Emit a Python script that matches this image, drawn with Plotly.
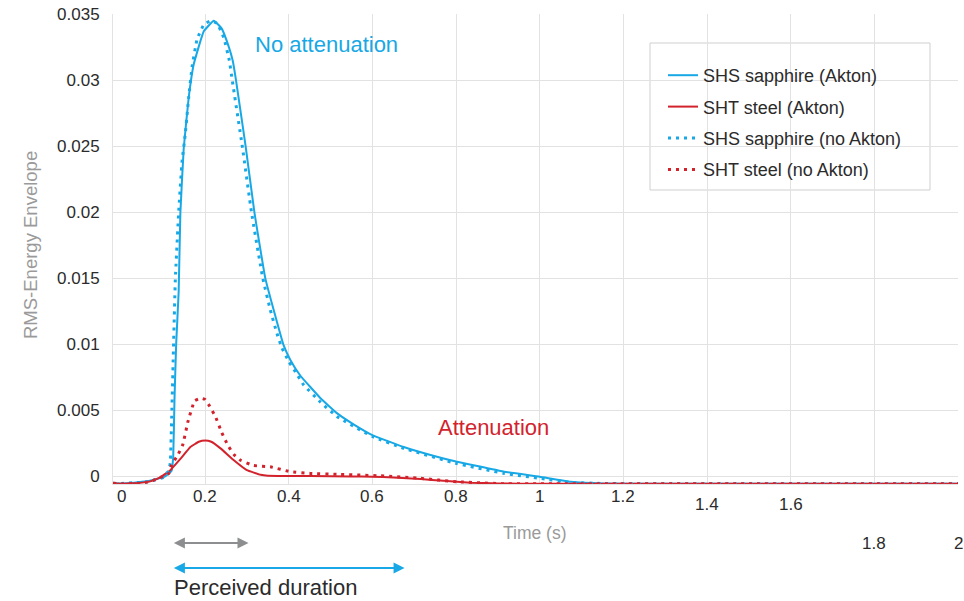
import plotly.graph_objects as go

# ---------------- data ----------------
t_shs_akton = [-0.02, 0.0, 0.03, 0.06, 0.08, 0.10, 0.11, 0.12, 0.124, 0.127, 0.131, 0.137, 0.141,
               0.149, 0.161, 0.173, 0.197, 0.221, 0.24, 0.257, 0.266, 0.274, 0.297, 0.318,
               0.344, 0.364, 0.388, 0.404, 0.428, 0.476, 0.516, 0.556, 0.6, 0.675,
               0.75, 0.8, 0.86, 0.915, 1.0, 1.074, 1.15, 1.25, 1.5, 2.0]
v_shs_akton = [-0.00055, -0.00056, -0.0005, -0.0004, -0.00025, -0.0001, 0.0001, 0.0004, 0.0015,
               0.0058, 0.010, 0.014, 0.0199, 0.0248, 0.0287, 0.0312, 0.0337, 0.0345, 0.0339,
               0.0325, 0.0315, 0.030, 0.025, 0.020, 0.015, 0.0126, 0.0099,
               0.0088, 0.0076, 0.0059, 0.00475, 0.0039, 0.0031, 0.0022, 0.0015, 0.0011, 0.0007,
               0.00033, -0.00005, -0.00043, -0.00056, -0.00058, -0.00058, -0.00058]

t_sht_akton = [-0.02, 0.0, 0.03, 0.069, 0.093, 0.117, 0.141, 0.165, 0.185, 0.2, 0.215, 0.237,
               0.269, 0.30, 0.333, 0.35, 0.45, 0.55, 0.6, 0.65, 0.715, 0.77, 0.835, 0.9, 1.0,
               1.5, 2.0]
v_sht_akton = [-0.00055, -0.00058, -0.00055, -0.0004, -0.0001, 0.00045, 0.0013, 0.0022, 0.0026,
               0.0027, 0.0026, 0.0021, 0.0012, 0.00045, 0.0001, 0.00003, 0.0, -0.00003, -0.00005,
               -0.0001, -0.00023, -0.00035, -0.0005, -0.00056, -0.00058, -0.00058, -0.00058]

t_shs_none = [-0.02, 0.0, 0.03, 0.06, 0.08, 0.10, 0.113, 0.117, 0.12, 0.124, 0.129, 0.137,
              0.145, 0.153, 0.161, 0.169, 0.181, 0.197, 0.213, 0.229, 0.245, 0.258, 0.265,
              0.289, 0.311, 0.338, 0.356, 0.372, 0.384, 0.40, 0.42,
              0.436, 0.476, 0.516, 0.6, 0.675, 0.8, 0.915, 1.0, 1.074, 1.15, 1.25, 1.5, 2.0]
v_shs_none = [-0.00055, -0.00056, -0.0005, -0.00045, -0.0003, -0.0001, 0.0004, 0.001, 0.004,
              0.009, 0.0149, 0.020, 0.0238, 0.026, 0.0287, 0.031, 0.0331, 0.0342, 0.0345,
              0.0343, 0.0332, 0.0315, 0.030, 0.025, 0.020, 0.015, 0.0126, 0.0108, 0.0097,
              0.0087, 0.0077, 0.0069, 0.0056, 0.0045, 0.0030,
              0.0021, 0.00096, 0.0002, -0.00017, -0.00048, -0.00056, -0.00058, -0.00058,
              -0.00058]

t_sht_none = [-0.02, 0.0, 0.045, 0.069, 0.089, 0.113, 0.12, 0.135, 0.147, 0.159, 0.175, 0.19,
              0.2, 0.211, 0.225, 0.24, 0.255, 0.27, 0.285, 0.316, 0.356, 0.404, 0.452, 0.516,
              0.62, 0.715, 0.803, 0.915, 1.0, 1.5, 2.0]
v_sht_none = [-0.00055, -0.00058, -0.00055, -0.0004, -0.00017, 0.0002, 0.00084, 0.0016, 0.0024,
              0.0041, 0.0057, 0.0059, 0.0058, 0.0053, 0.0045, 0.0033, 0.0023, 0.0016, 0.0012,
              0.0008, 0.0007, 0.00033, 0.0002, 0.00013, 0.00002, -0.00017, -0.00043, -0.00058,
              -0.00058, -0.00058, -0.00058]

series_names = ["SHS sapphire (Akton)", "SHT steel (Akton)",
                "SHS sapphire (no Akton)", "SHT steel (no Akton)"]

x_tick_values = [0, 0.2, 0.4, 0.6, 0.8, 1.0, 1.2, 1.4, 1.6, 1.8, 2.0]
x_tick_labels = ["0", "0.2", "0.4", "0.6", "0.8", "1", "1.2", "1.4", "1.6", "1.8", "2"]
y_tick_values = [0, 0.005, 0.01, 0.015, 0.02, 0.025, 0.03, 0.035]
y_tick_labels = ["0", "0.005", "0.01", "0.015", "0.02", "0.025", "0.03", "0.035"]

short_duration = [0.122, 0.304]   # grey arrow (s)
long_duration = [0.122, 0.677]    # blue arrow (s)

# ---------------- style ----------------
BLUE = "#17a8e5"
RED = "#d2232d"
GREY_TXT = "#9a9a9a"
DARK = "#2b2b2b"
GRID = "#e2e2e2"
FONT = "Liberation Sans, Arial, sans-serif"

OFF = 0                      # body margin removed by post_script
W, H = 964, 601
L, R, T, B = 113, 6, 14, 117
PW, PH = W - L - R, H - T - B


def px(sx):
    """screen column -> paper x"""
    return (sx - OFF - L) / PW


def py(sy):
    """screen row -> paper y"""
    return (H - B - (sy - OFF)) / PH


fig = go.Figure()
traces = [
    (t_shs_akton, v_shs_akton, BLUE, "solid"),
    (t_sht_akton, v_sht_akton, RED, "solid"),
    (t_shs_none, v_shs_none, BLUE, "3px,5px"),
    (t_sht_none, v_sht_none, RED, "3px,5px"),
]
for i, (tx, vy, col, dash) in enumerate(traces):
    fig.add_trace(go.Scatter(
        x=tx, y=vy, mode="lines", name=series_names[i], legendgroup=f"g{i}",
        line=dict(color=col, width=2 if dash == "solid" else 3, dash=dash,
                  shape="spline", smoothing=0.3),
    ))

annotations = []
# x tick labels (staggered as in the reference)
shifts = {1.4: -8, 1.6: -8, 1.8: -47, 2.0: -47}
for v, lab in zip(x_tick_values, x_tick_labels):
    annotations.append(dict(
        x=v, y=0, xref="x", yref="paper", text=lab, showarrow=False,
        yanchor="top", xanchor="center", yshift=-1 + shifts.get(v, 0),
        font=dict(size=17, color=DARK, family=FONT)))

annotations += [
    dict(x=px(535), y=py(533), xref="paper", yref="paper", text="Time (s)",
         showarrow=False, font=dict(size=17.5, color=GREY_TXT, family=FONT),
         xanchor="center", yanchor="middle"),
    dict(x=px(30), y=py(245), xref="paper", yref="paper", text="RMS-Energy Envelope",
         showarrow=False, textangle=-90, xanchor="center", yanchor="middle",
         font=dict(size=18.5, color=GREY_TXT, family=FONT)),
    dict(x=0.49, y=0.0327, xref="x", yref="y", text="No attenuation", showarrow=False,
         font=dict(size=22, color=BLUE, family=FONT)),
    dict(x=0.89, y=0.0037, xref="x", yref="y", text="Attenuation", showarrow=False,
         font=dict(size=22, color=RED, family=FONT)),
    dict(x=0.345, y=py(601), xref="x", yref="paper", text="Perceived duration", showarrow=False,
         font=dict(size=22, color=DARK, family=FONT), yanchor="bottom", borderpad=0),
    dict(x=short_duration[1], y=py(543), ax=short_duration[0], ay=0,
         xref="x", yref="paper", axref="x", ayref="pixel", text="", showarrow=True,
         arrowhead=2, startarrowhead=2, arrowside="end+start", arrowsize=1.1,
         startarrowsize=1.1, arrowwidth=2, arrowcolor="#8c8e90"),
    dict(x=long_duration[1], y=py(568), ax=long_duration[0], ay=0,
         xref="x", yref="paper", axref="x", ayref="pixel", text="", showarrow=True,
         arrowhead=2, startarrowhead=2, arrowside="end+start", arrowsize=1.1,
         startarrowsize=1.1, arrowwidth=2, arrowcolor=BLUE),
]

fig.update_layout(
    width=W, height=H,
    margin=dict(l=L, r=R, t=T, b=B, autoexpand=False),
    paper_bgcolor="white", plot_bgcolor="white",
    font=dict(family=FONT, size=17, color=DARK),
    showlegend=True,
    legend=dict(x=px(663), y=py(57), xanchor="left", yanchor="top",
                bgcolor="rgba(0,0,0,0)", borderwidth=0,
                font=dict(size=18, color=DARK, family=FONT),
                tracegroupgap=5, traceorder="grouped"),
    annotations=annotations,
    shapes=[dict(type="rect", xref="paper", yref="paper",
                 x0=px(650), x1=px(930), y0=py(190), y1=py(43),
                 fillcolor="white", line=dict(color="#cfcfcf", width=1), layer="between")],
)
fig.update_xaxes(range=[-0.02, 2.0], tickvals=x_tick_values[1:], showticklabels=False,
                 showgrid=True, gridcolor=GRID, gridwidth=1, zeroline=False, automargin=False,
                 showline=True, linecolor=GRID, linewidth=1, ticks="")
fig.update_yaxes(range=[-0.0006, 0.03501], tickvals=y_tick_values, ticktext=y_tick_labels,
                 showgrid=True, gridcolor=GRID, gridwidth=1, zeroline=False, automargin=False,
                 showline=True, linecolor=GRID, linewidth=1,
                 ticks="outside", ticklen=9, tickcolor="rgba(0,0,0,0)",
                 tickfont=dict(size=17, color=DARK, family=FONT))

fig.write_html("out.html", config={"displayModeBar": False},
               post_script="document.body.style.margin='0';document.body.style.overflow='hidden';")
